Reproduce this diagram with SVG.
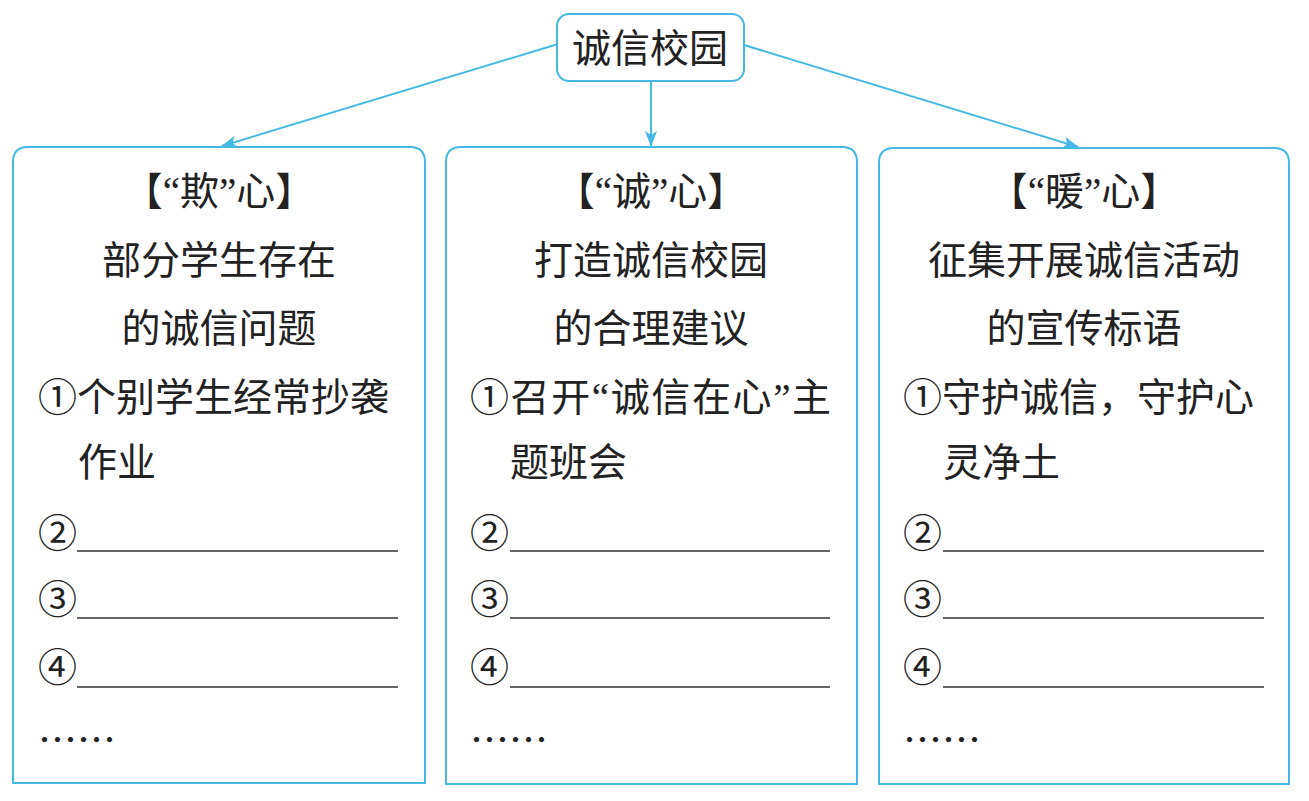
<svg xmlns="http://www.w3.org/2000/svg" width="1309" height="801" viewBox="0 0 1309 801">
<style>
.box{fill:#fff;stroke:#45b9e4;stroke-width:2}
.conn{stroke:#45b9e4;stroke-width:2;fill:none}
.t{font-family:"Noto Sans CJK SC","Noto Sans",sans-serif;font-size:39px;fill:#222}
.q{font-family:"Liberation Serif",serif}
.c{text-anchor:middle}
.ul{stroke:#333;stroke-width:1.5}
</style>
<defs>
<marker id="arr" viewBox="0 0 16 12" refX="15" refY="6" markerWidth="16" markerHeight="12" markerUnits="userSpaceOnUse" orient="auto">
<path d="M0,0 L16,6 L0,12 L4,6 Z" fill="#45b9e4"/>
</marker>
</defs>
<rect width="1309" height="801" fill="#fff"/>
<g id="connectors">
<line class="conn" x1="558" y1="44" x2="222" y2="146" marker-end="url(#arr)"/>
<line class="conn" x1="651" y1="81" x2="651" y2="146" marker-end="url(#arr)"/>
<line class="conn" x1="744" y1="45" x2="1078" y2="147" marker-end="url(#arr)"/>
</g>
<g id="root">
<rect class="box" x="557" y="14" width="187" height="67" rx="12"/>
<text class="t c" x="650" y="62">诚信校园</text>
</g>
<g id="box-qi">
<path class="box" d="M13,783 L13,162 Q13,147 28,147 L410,147 Q425,147 425,162 L425,783 Z"/>
<text class="t c" x="219" y="205">【<tspan class="q">“</tspan>欺<tspan class="q">”</tspan>心】</text>
<text class="t c" x="219" y="274">部分学生存在</text>
<text class="t c" x="219" y="342">的诚信问题</text>
<text class="t" x="38" y="411">①个别学生经常抄袭</text>
<text class="t" x="78" y="476">作业</text>
<text class="t" x="38" y="547">②</text>
<line class="ul" x1="77" y1="551" x2="398" y2="551"/>
<text class="t" x="38" y="613">③</text>
<line class="ul" x1="77" y1="618" x2="398" y2="618"/>
<text class="t" x="38" y="681">④</text>
<line class="ul" x1="77" y1="687" x2="398" y2="687"/>
<text class="t" x="38" y="754">……</text>
</g>
<g id="box-cheng">
<path class="box" d="M446,784 L446,162 Q446,147 461,147 L842,147 Q857,147 857,162 L857,784 Z"/>
<text class="t c" x="651" y="205">【<tspan class="q">“</tspan>诚<tspan class="q">”</tspan>心】</text>
<text class="t c" x="651" y="274">打造诚信校园</text>
<text class="t c" x="651" y="342">的合理建议</text>
<text class="t" x="470" y="411" letter-spacing="1.6">①召开<tspan class="q">“</tspan>诚信在心<tspan class="q">”</tspan>主</text>
<text class="t" x="510" y="476">题班会</text>
<text class="t" x="470" y="547">②</text>
<line class="ul" x1="510" y1="551" x2="830" y2="551"/>
<text class="t" x="470" y="613">③</text>
<line class="ul" x1="510" y1="618" x2="830" y2="618"/>
<text class="t" x="470" y="681">④</text>
<line class="ul" x1="510" y1="687" x2="830" y2="687"/>
<text class="t" x="470" y="754">……</text>
</g>
<g id="box-nuan">
<path class="box" d="M879,784 L879,163 Q879,148 894,148 L1274,148 Q1289,148 1289,163 L1289,784 Z"/>
<text class="t c" x="1084" y="205">【<tspan class="q">“</tspan>暖<tspan class="q">”</tspan>心】</text>
<text class="t c" x="1084" y="274">征集开展诚信活动</text>
<text class="t c" x="1084" y="342">的宣传标语</text>
<text class="t" x="903" y="411">①守护诚信，守护心</text>
<text class="t" x="943" y="476">灵净土</text>
<text class="t" x="903" y="547">②</text>
<line class="ul" x1="943" y1="551" x2="1264" y2="551"/>
<text class="t" x="903" y="613">③</text>
<line class="ul" x1="943" y1="618" x2="1264" y2="618"/>
<text class="t" x="903" y="681">④</text>
<line class="ul" x1="943" y1="687" x2="1264" y2="687"/>
<text class="t" x="903" y="754">……</text>
</g>
</svg>
